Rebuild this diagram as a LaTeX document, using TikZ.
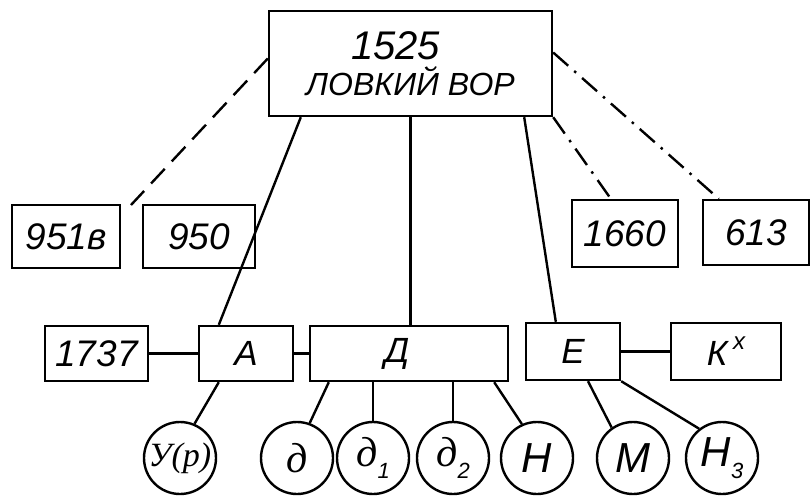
\documentclass[tikz,border=0pt]{standalone}
\usepackage{fontspec}
\setmainfont{Liberation Sans}
\newfontfamily\curs{Liberation Serif}
\newfontfamily\sans{Liberation Sans}
\usetikzlibrary{calc}
\newcommand\fs[1]{\fontsize{#1}{#1}\selectfont}
\newcommand\lowidx[1]{\raisebox{-0.3em}{\sans\itshape\fs{22}#1}}
\begin{document}
\begin{tikzpicture}[x=1pt,y=-1pt,
  lw/.style={line width=2.4pt},
  box/.style={draw,lw,rectangle,inner sep=0pt,font=\itshape\fs{37}},
  circ/.style={draw,lw,circle,minimum size=72pt,inner sep=0pt,font=\itshape\fs{42}},
  conn/.style={lw},
  dashline/.style={lw,dash pattern=on 20pt off 10.2pt},
  dotdash/.style={lw,dash pattern=on 20pt off 8pt on 2.5pt off 8pt}]
\useasboundingbox (0,0) rectangle (812,496);
% top box
\node[box,minimum width=283pt,minimum height=105pt,align=center] (top) at (410.5,63.5)
  {\fs{40}\hspace*{-30pt}1525\\[-1pt]\fs{32}ЛОВКИЙ ВОР};
% second row
\node[box,minimum width=108pt,minimum height=63pt] (b951) at (66,236.5) {951в};
\node[box,minimum width=112pt,minimum height=63pt] (b950) at (199,236.5) {950};
\node[box,minimum width=106pt,minimum height=67pt] (b1660) at (625,233.5) {1660};
\node[box,minimum width=106pt,minimum height=65pt] (b613) at (756,232.5) {613};
\coordinate (g1) at (131,205);
% third row
\node[box,minimum width=103pt,minimum height=55pt] (b1737) at (96.5,353.5) {1737};
\node[box,minimum width=94pt,minimum height=55pt,font=\itshape\fs{35}] (bA) at (246,353.5) {А};
\node[box,minimum width=198pt,minimum height=55pt,font=\itshape\fs{35}] (bD) at (409,353.5) {\hspace*{-24pt}Д};
\node[box,minimum width=94pt,minimum height=57pt,font=\itshape\fs{35}] (bE) at (573,351.5) {Е};
\node[box,minimum width=110pt,minimum height=57pt,font=\itshape\fs{35}] (bK) at (726,351.5) {К\,\raisebox{0.45em}{\fs{24}x}};
% circles
\node[circ,font=\curs\itshape\fs{34}] (c1) at (180,458) {У(р)};
\node[circ,font=\curs\itshape\fs{42}] (c2) at (297,458) {д};
\node[circ,font=\curs\itshape\fs{42}] (c3) at (373,458) {д\lowidx{1}};
\node[circ,font=\curs\itshape\fs{42}] (c4) at (453,458) {д\lowidx{2}};
\node[circ] (c5) at (537,458) {Н};
\node[circ] (c6) at (633,458) {М};
\node[circ] (c7) at (722,458) {Н\lowidx{3}};
% connectors from top
\draw[conn] ([xshift=33pt]top.south west) -- ([xshift=21pt]bA.north west);
\draw[conn] (top.south) -- (top.south |- bD.north);
\draw[conn] ([xshift=-29pt]top.south east) -- ([xshift=31pt]bE.north west);
\draw[dashline] ([yshift=5pt]top.west) -- (g1);
\draw[dotdash] (top.south east) -- ([xshift=40pt]b1660.north west);
\draw[dotdash] ([yshift=11pt]top.east) -- ([xshift=17pt]b613.north west);
% row connectors
\draw[conn] (b1737.east) -- (bA.west);
\draw[conn] (bA.east) -- (bD.west);
\draw[conn] (bE.east) -- (bK.west);
% to circles
\draw[conn] ([xshift=21pt]bA.south west) -- (c1.67);
\draw[conn] ([xshift=20pt]bD.south west) -- (c2.70);
\draw[conn] (c3.north |- bD.south) -- (c3.north);
\draw[conn] (c4.north |- bD.south) -- (c4.north);
\draw[conn] ([xshift=-15pt]bD.south east) -- (c5.114);
\draw[conn] ([xshift=15pt]bE.south) -- (c6.125);
\draw[conn] (bE.south east) -- (c7.128);
\end{tikzpicture}
\end{document}
